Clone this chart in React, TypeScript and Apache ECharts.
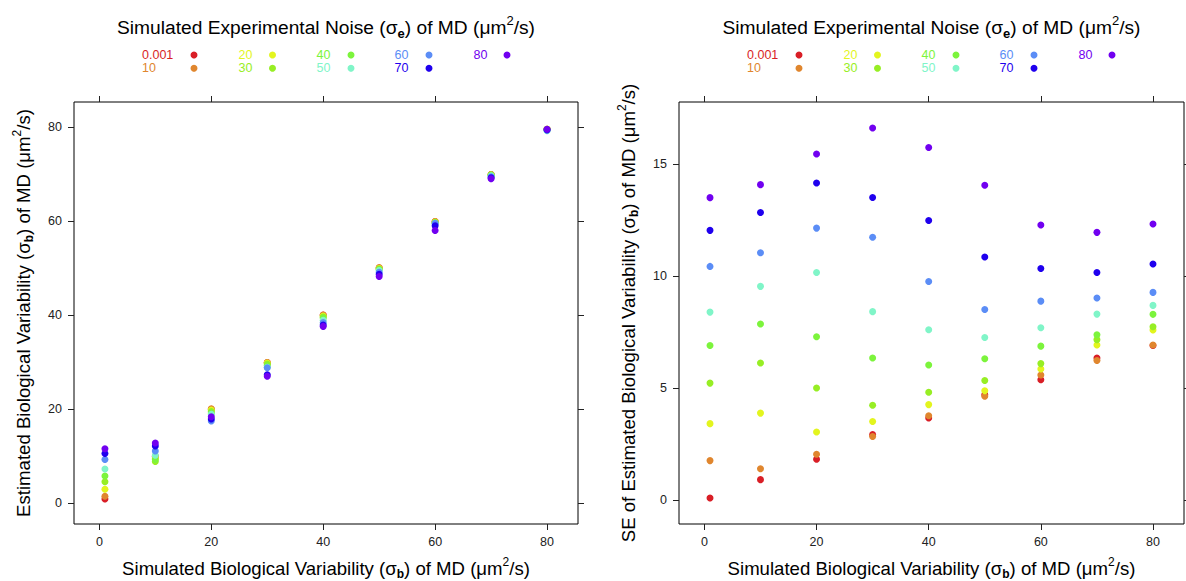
import React, { useEffect, useRef } from 'react';
import * as echarts from 'echarts';

// ---- data ----
const simulatedBio = [1, 10, 20, 30, 40, 50, 60, 70, 80];
const noiseLevels = ['0.001', '10', '20', '30', '40', '50', '60', '70', '80'];
const noiseColors = ['#D91E26', '#E0862E', '#E3F51E', '#97EE24', '#7CF43C', '#80F5C8', '#5B8DF6', '#1F00EE', '#7100F0'];

// Estimated biological variability (left panel), one array per noise level
const est_0001 = [0.9, 10.0, 20.0, 29.9, 40.0, 50.0, 59.9, 69.9, 79.5];
const est_10 = [1.5, 9.9, 20.1, 29.9, 40.0, 50.1, 59.9, 69.9, 79.5];
const est_20 = [3.0, 9.6, 19.8, 29.8, 39.8, 49.9, 59.8, 69.8, 79.5];
const est_30 = [4.6, 8.9, 19.5, 29.6, 39.6, 49.8, 59.7, 69.8, 79.5];
const est_40 = [5.8, 9.3, 19.2, 29.3, 39.4, 49.7, 59.6, 69.8, 79.4];
const est_50 = [7.3, 10.2, 18.9, 28.9, 38.9, 49.5, 59.5, 69.6, 79.2];
const est_60 = [9.3, 11.1, 17.5, 28.8, 38.4, 49.1, 59.5, 69.4, 79.3];
const est_70 = [10.6, 12.2, 17.9, 27.3, 37.9, 48.7, 59.0, 69.2, 79.4];
const est_80 = [11.6, 12.8, 18.4, 27.0, 37.6, 48.2, 58.0, 69.0, 79.5];

// SE of estimated biological variability (right panel)
const se_0001 = [0.09, 0.91, 1.82, 2.92, 3.66, 4.70, 5.37, 6.34, 6.90];
const se_10 = [1.76, 1.40, 2.04, 2.84, 3.76, 4.63, 5.58, 6.23, 6.92];
const se_20 = [3.41, 3.88, 3.04, 3.51, 4.26, 4.88, 5.85, 6.92, 7.59];
const se_30 = [5.22, 6.12, 5.00, 4.23, 4.81, 5.34, 6.09, 7.16, 7.74];
const se_40 = [6.90, 7.86, 7.29, 6.34, 6.03, 6.31, 6.87, 7.38, 8.29];
const se_50 = [8.39, 9.54, 10.16, 8.41, 7.60, 7.26, 7.69, 8.30, 8.69];
const se_60 = [10.43, 11.04, 12.14, 11.73, 9.76, 8.51, 8.88, 9.02, 9.27];
const se_70 = [12.04, 12.84, 14.15, 13.51, 12.48, 10.85, 10.34, 10.16, 10.54];
const se_80 = [13.50, 14.08, 15.45, 16.61, 15.74, 14.05, 12.28, 11.95, 12.32];

const estimatedSeries = [est_0001, est_10, est_20, est_30, est_40, est_50, est_60, est_70, est_80];
const seSeries = [se_0001, se_10, se_20, se_30, se_40, se_50, se_60, se_70, se_80];

const xTicks = [0, 20, 40, 60, 80];
const yTicksLeft = [0, 20, 40, 60, 80];
const yTicksRight = [0, 5, 10, 15];

// ---- layout ----
const FONT = '"Liberation Sans", Arial, Helvetica, sans-serif';
const X_MIN = -4.53;
const X_MAX = 85.53;
const GRIDS = [
  { left: 74, top: 102, width: 504, height: 422, yMin: -4.4, yMax: 85.3, yTicks: yTicksLeft },
  { left: 679, top: 102, width: 505, height: 422, yMin: -1.07, yMax: 17.77, yTicks: yTicksRight },
];
const LEGEND_TEXT_DX = [68, 164.5, 242.5, 320.5, 399.5];
const LEGEND_DOT_DX = [120, 198.5, 277, 355, 433];
const LEGEND_ROW_Y = [55, 68.3];

function makeRich(size: number) {
  const small = Math.round(size * 0.67);
  return {
    n: { fontSize: size, lineHeight: size + 6, fontFamily: FONT, fill: '#000', color: '#000' },
    sub: { fontSize: small, lineHeight: small, fontWeight: 'bold', fontFamily: FONT, verticalAlign: 'bottom', fill: '#000', color: '#000' },
    sup: { fontSize: small, lineHeight: small, fontFamily: FONT, verticalAlign: 'top', fill: '#000', color: '#000' },
  };
}
const topRich = makeRich(19.2);
const axisRich = makeRich(18.6);

const topTitle = '{n|Simulated Experimental Noise (σ}{sub|e}{n|) of MD (μm}{sup|2}{n|/s)}';
const bottomTitle = '{n|Simulated Biological Variability (σ}{sub|b}{n|) of MD (μm}{sup|2}{n|/s)}';
const yTitles = [
  '{n|Estimated Biological Variability (σ}{sub|b}{n|) of MD (μm}{sup|2}{n|/s)}',
  '{n|SE of Estimated Biological Variability (σ}{sub|b}{n|) of MD (μm}{sup|2}{n|/s)}',
];
const yTitleX = [23, 628];

function buildOption() {
  const grid = GRIDS.map((g) => ({
    left: g.left, top: g.top, width: g.width, height: g.height,
    show: true, borderColor: '#000', borderWidth: 1, backgroundColor: 'transparent',
    containLabel: false,
  }));

  const tickStyle = { color: '#222', width: 1 };
  const xAxis: any[] = [];
  const yAxis: any[] = [];
  GRIDS.forEach((g, gi) => {
    xAxis.push({
      type: 'value', gridIndex: gi, position: 'bottom', min: X_MIN, max: X_MAX,
      axisLine: { show: false, onZero: false }, splitLine: { show: false },
      axisTick: { show: true, length: 6, customValues: xTicks, lineStyle: tickStyle },
      axisLabel: { customValues: xTicks, margin: 11, fontSize: 12.5, color: '#222', fontFamily: FONT },
    });
    xAxis.push({
      type: 'value', gridIndex: gi, position: 'top', min: X_MIN, max: X_MAX,
      axisLine: { show: false, onZero: false }, splitLine: { show: false },
      axisTick: { show: true, length: 6, customValues: xTicks, lineStyle: tickStyle },
      axisLabel: { show: false },
    });
    yAxis.push({
      type: 'value', gridIndex: gi, position: 'left', min: g.yMin, max: g.yMax,
      axisLine: { show: false, onZero: false }, splitLine: { show: false },
      axisTick: { show: true, length: 6, customValues: g.yTicks, lineStyle: tickStyle },
      axisLabel: { customValues: g.yTicks, margin: 12, fontSize: 12.5, color: '#222', fontFamily: FONT },
    });
    yAxis.push({
      type: 'value', gridIndex: gi, position: 'right', min: g.yMin, max: g.yMax,
      axisLine: { show: false, onZero: false }, splitLine: { show: false },
      axisTick: { show: true, length: 6, customValues: g.yTicks, lineStyle: tickStyle },
      axisLabel: { show: false },
    });
  });

  const series: any[] = [];
  [estimatedSeries, seSeries].forEach((panel, gi) => {
    panel.forEach((vals, i) => {
      series.push({
        type: 'scatter',
        name: noiseLevels[i],
        xAxisIndex: gi * 2,
        yAxisIndex: gi * 2,
        symbol: 'circle',
        symbolSize: 7,
        itemStyle: { color: noiseColors[i], opacity: 1 },
        data: simulatedBio.map((x, k) => [x, vals[k]]),
        z: 2 + i * 0.01,
      });
    });
  });

  const graphic: any[] = [];
  GRIDS.forEach((g, gi) => {
    const cx = g.left + g.width / 2;
    const cy = g.top + g.height / 2;
    graphic.push({
      type: 'text', x: cx, y: 27,
      style: { text: topTitle, rich: topRich, align: 'center', verticalAlign: 'middle', fontFamily: FONT, fontSize: 19.2, fill: '#000' },
    });
    graphic.push({
      type: 'text', x: cx, y: 568,
      style: { text: bottomTitle, rich: axisRich, align: 'center', verticalAlign: 'middle', fontFamily: FONT, fontSize: 18.6, fill: '#000' },
    });
    graphic.push({
      type: 'text', x: yTitleX[gi], y: cy, rotation: Math.PI / 2,
      style: { text: yTitles[gi], rich: axisRich, align: 'center', verticalAlign: 'middle', fontFamily: FONT, fontSize: 18.6, fill: '#000' },
    });
    noiseLevels.forEach((lvl, i) => {
      const col = Math.floor(i / 2);
      const row = i % 2;
      graphic.push({
        type: 'text', x: g.left + LEGEND_TEXT_DX[col], y: LEGEND_ROW_Y[row],
        style: { text: lvl, fill: noiseColors[i], fontSize: 12.5, fontFamily: FONT, align: 'left', verticalAlign: 'middle' },
      });
      graphic.push({
        type: 'circle', shape: { cx: g.left + LEGEND_DOT_DX[col], cy: LEGEND_ROW_Y[row], r: 3.5 },
        style: { fill: noiseColors[i] },
      });
    });
  });

  return {
    animation: false,
    backgroundColor: '#fff',
    textStyle: { fontFamily: FONT },
    grid, xAxis, yAxis, series, graphic,
  };
}

export default function App() {
  const ref = useRef<HTMLDivElement>(null);
  useEffect(() => {
    if (!ref.current) return;
    const chart = echarts.init(ref.current, null, { renderer: 'svg' });
    chart.setOption(buildOption() as any);
    return () => chart.dispose();
  }, []);
  return (
    <div
      ref={ref}
      style={{ position: 'fixed', left: 0, top: 0, width: 1186, height: 581, background: '#fff' }}
    />
  );
}
